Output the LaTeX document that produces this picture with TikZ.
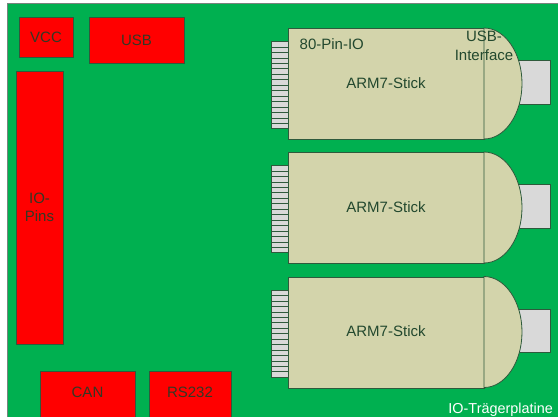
\documentclass[tikz,border=0pt]{standalone}
\usepackage{fontspec}
\setmainfont{Liberation Sans}
\definecolor{boardgreen}{RGB}{0,176,80}
\definecolor{boxred}{RGB}{255,0,0}
\definecolor{edgegreen}{RGB}{46,90,60}
\definecolor{txtgreen}{RGB}{34,72,46}
\definecolor{redtxt}{RGB}{52,56,36}
\definecolor{stickfill}{RGB}{211,212,171}
\definecolor{plugfill}{RGB}{217,217,217}
\definecolor{boardedge}{RGB}{120,130,125}
\tikzset{
  lbl/.style={font=\fontsize{15}{18.5}\selectfont, text=txtgreen, inner sep=0pt},
  redlbl/.style={font=\fontsize{15}{18.5}\selectfont, text=redtxt, inner sep=0pt, align=center},
  redbox/.style={fill=boxred, draw=edgegreen, line width=0.8pt, inner sep=0pt},
  stickbody/.style={fill=stickfill, draw=edgegreen, line width=0.8pt},
  pinstripe/.style={fill=plugfill, draw=edgegreen, line width=0.6pt},
  plugbox/.style={fill=plugfill, draw=edgegreen, line width=0.6pt},
}
\begin{document}
\begin{tikzpicture}[x=1pt, y=-1pt]
\useasboundingbox (0,0) rectangle (558,416);
\clip (0,0) rectangle (558,416);
% board
\fill[white] (0,0) rectangle (558,416);
\draw[fill=boardgreen, draw=boardedge, line width=0.8pt] (7.5,3) rectangle (600,450);
% red connectors
\node[redbox, minimum width=54pt, minimum height=40pt] (vcc) at (46,37) {};
\node[redlbl] (vcctxt) at (46,37) {VCC};
\node[redbox, minimum width=95pt, minimum height=46pt] (usb) at (136.5,40) {};
\node[redlbl] (usbtxt) at (136.5,40) {USB};
\node[redbox, minimum width=47pt, minimum height=273pt] (iopins) at (39.5,207.5) {};
\node[redlbl] (iotxt) at (39.5,207.5) {IO-\\Pins};
\node[redbox, minimum width=95pt, minimum height=60pt, anchor=north west] (can) at (40,371) {};
\node[redlbl] (cantxt) at (87.5,392) {CAN};
\node[redbox, minimum width=82pt, minimum height=60pt, anchor=north west] (rs) at (149,371) {};
\node[redlbl] (rstxt) at (190,392) {RS232};
% sticks
\foreach \yo/\nm in {28/1,152/2,276.5/3}{
  \begin{scope}[shift={(0,\yo)}]
    % pins
    \foreach \i in {0,...,15}{
      \draw[pinstripe] (271.5,{13.5+\i*5.45}) rectangle (288,{13.5+(\i+1)*5.45});
    }
    % plug
    \draw[plugbox] (517,32.5) rectangle (550,76);
    % body
    \node[stickbody, minimum width=196pt, minimum height=111pt, anchor=north west, inner sep=0pt] (stick\nm) at (288,0) {};
    % usb cap
    \draw[stickbody] (484,0) arc[start angle=90, end angle=-90, x radius=38pt, y radius=55.5pt] -- cycle;
    \node[lbl] (arm\nm) at (386,55) {ARM7-Stick};
  \end{scope}
}
\node[lbl, anchor=west] (pinio) at (299.5,44) {80-Pin-IO};
\node[lbl, align=center] (usbif) at (484,46) {USB-\\Interface};
\node[font=\fontsize{14.4}{17}\selectfont, text=white, inner sep=0pt, anchor=base east] (board) at (553,413) {IO-Trägerplatine};
\end{tikzpicture}
\end{document}
